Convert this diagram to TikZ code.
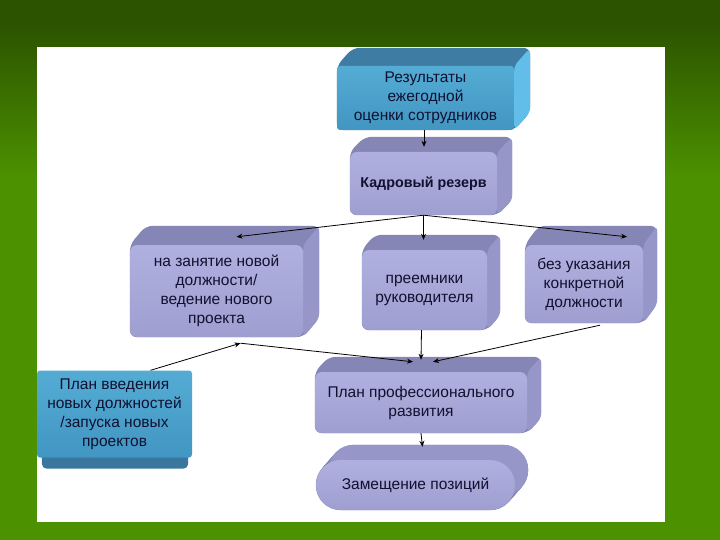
\documentclass[tikz,border=0pt]{standalone}
\usepackage{fontspec}
\setmainfont{Liberation Sans}
\usetikzlibrary{arrows.meta}

\definecolor{gtop}{RGB}{44,84,0}
\definecolor{gbot}{RGB}{76,146,0}
\definecolor{ink}{RGB}{16,16,48}
\definecolor{lavtop}{RGB}{176,176,224}
\definecolor{lavbot}{RGB}{158,158,208}
\definecolor{lavroof}{RGB}{134,134,182}
\definecolor{lavside}{RGB}{150,150,200}
\definecolor{blutop}{RGB}{84,172,212}
\definecolor{blubot}{RGB}{66,150,194}
\definecolor{bluroof}{RGB}{62,124,164}
\definecolor{bluside}{RGB}{98,190,232}
\definecolor{bluedge}{RGB}{58,118,158}

\pgfdeclarelayer{back}
\pgfdeclarelayer{depth}
\pgfsetlayers{back,depth,main}

% depth of a box: node, dx, dy, roof colour, side colour
\newcommand\boxdepth[5]{%
  \begin{pgfonlayer}{depth}
    \fill[#4, rounded corners=7pt] (#1.south west) -- (#1.north west)
      -- ([shift={(#2,#3)}]#1.north west) -- ([shift={(#2,#3)}]#1.north east)
      -- ([shift={(#2,#3)}]#1.south east) -- (#1.south east) -- cycle;
    \fill[#5, rounded corners=5pt] (#1.north east) -- ([shift={(#2,#3)}]#1.north east)
      -- ([shift={(#2,#3)}]#1.south east) -- (#1.south east) -- cycle;
  \end{pgfonlayer}}

\begin{document}
\begin{tikzpicture}[%
  x=1pt,
  y=-1pt,
  >={Stealth[length=6pt,width=5pt]},
  lav/.style={
    rectangle,
    rounded corners=7pt,
    top color=lavtop,
    bottom color=lavbot,
    text=ink,
    align=center,
    inner sep=0pt,
    font=\fontsize{15.5}{19}\selectfont},
  blu/.style={
    lav,
    top color=blutop,
    bottom color=blubot,
    rounded corners=3pt},
  pil/.style={
    ->,
    line width=0.8pt}
  ]
  \useasboundingbox (0,0) rectangle (720,540);
  %% Background
  \begin{pgfonlayer}{back}
    \fill[gbot] (0,0) rectangle (720,540);
    \fill[gtop] (0,0) rectangle (720,25);
    \fill[top color=gtop, bottom color=gbot] (0,25) rectangle (720,180);
    \fill[white] (37,47) rectangle (665,522);
  \end{pgfonlayer}
  %% Nodes
  \node[blu, minimum width=177pt, minimum height=64pt] (res) at (425.5,98)
    {Результаты\\ежегодной\\оценки сотрудников};
  \node[lav, minimum width=147pt, minimum height=63pt,
    font=\fontsize{14.3}{17}\selectfont\bfseries] (kad) at (423.5,183.5)
    {Кадровый резерв};
  \node[lav, minimum width=173pt, minimum height=92pt] (zan) at (216.5,291)
    {на занятие новой\\должности/\\ведение нового\\проекта};
  \node[lav, minimum width=125pt, minimum height=80pt] (pre) at (424.5,290)
    {преемники\\руководителя};
  \node[lav, minimum width=118pt, minimum height=78pt] (bez) at (584,284)
    {без указания\\конкретной\\должности};
  \node[blu, minimum width=155pt, minimum height=87pt] (plan) at (114.5,414)
    {План введения\\новых должностей\\/запуска новых\\проектов};
  \node[lav, minimum width=212pt, minimum height=61pt] (ppr) at (421,402.5)
    {План профессионального\\развития};
  \node[lav, rounded corners=25pt, minimum width=199pt, minimum height=50pt] (zam)
    at (415.5,485) {Замещение позиций};
  %% Depth
  \boxdepth{res}{16}{-18}{bluroof}{bluside}
  \boxdepth{kad}{15}{-15}{lavroof}{lavside}
  \boxdepth{zan}{16}{-19}{lavroof}{lavside}
  \boxdepth{pre}{13}{-15}{lavroof}{lavside}
  \boxdepth{bez}{14}{-19}{lavroof}{lavside}
  \boxdepth{ppr}{14}{-15}{lavroof}{lavside}
  \begin{pgfonlayer}{depth}
    \foreach \k in {0,1,...,13}
      \fill[lavroof, rounded corners=25pt] ([shift={(\k,-1.15*\k)}]zam.south west)
        rectangle ([shift={(\k,-1.15*\k)}]zam.north east);
    \fill[lavside, rounded corners=25pt] ([shift={(13,-15)}]zam.south west)
      rectangle ([shift={(13,-15)}]zam.north east);
    \fill[bluedge, rounded corners=5pt] ([shift={(5,-8)}]plan.south west)
      rectangle ([shift={(-4,11)}]plan.south east);
  \end{pgfonlayer}
  %% Edges
  \draw[pil] ([shift={(-1.5,0)}]res.south) -- ([shift={(0.5,-5)}]kad.north);
  \draw[pil] (kad.south) -- ([shift={(20,-8)}]zan.north);
  \draw[pil] (kad.south) -- ([shift={(-1,-10)}]pre.north);
  \draw[pil] (kad.south) -- ([shift={(43,-8)}]bez.north);
  \draw[pil] ([shift={(36,0)}]plan.north) -- ([shift={(24,6)}]zan.south);
  \draw[pil] ([shift={(24,6)}]zan.south) -- ([shift={(-8,-10)}]ppr.north);
  \draw[pil] ([shift={(-3,0)}]pre.south) -- ([shift={(0,-12)}]ppr.north);
  \draw[pil] ([shift={(16,2)}]bez.south) -- ([shift={(12,-10)}]ppr.north);
  \draw[pil] (ppr.south) -- ([shift={(7,-13)}]zam.north);
\end{tikzpicture}
\end{document}
